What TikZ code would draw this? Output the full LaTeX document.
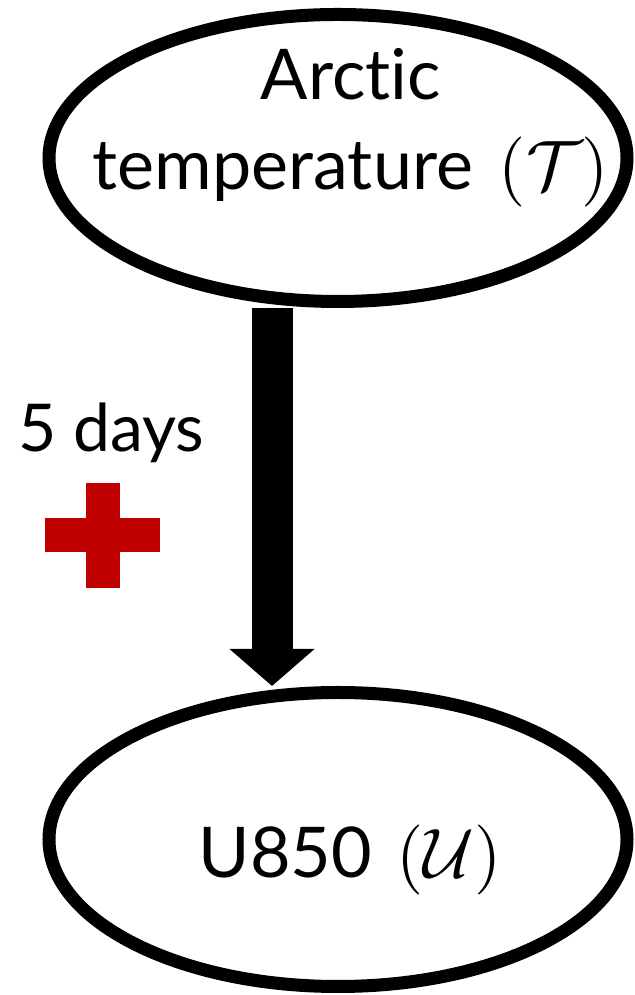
\IfFileExists{fix-cm.sty}{\RequirePackage{fix-cm}}{}
\documentclass[tikz,border=0pt]{standalone}
\usepackage{fontspec}
\setmainfont{Lato}[Ligatures=NoCommon]
\DeclareFontShape{OMS}{cmsy}{m}{n}{<->cmsy10}{\skewchar\font48}
\DeclareFontShape{OT1}{cmr}{m}{n}{<->cmr10}{}
\usetikzlibrary{shapes.geometric,arrows.meta}
\definecolor{crossred}{HTML}{C00000}
\tikzset{
  ovalnode/.style={ellipse, draw=black, line width=13pt, fill=white, minimum width=578pt, inner sep=0pt},
  bigtext/.style={font=\fontsize{70}{90}\selectfont, inner sep=0pt, align=center},
  daystext/.style={font=\fontsize{66}{80}\selectfont, inner sep=0pt},
  bigarrow/.style={line width=41pt, -{Triangle[length=37pt,width=83pt]}}
}
\begin{document}
\begin{tikzpicture}[x=1pt,y=1pt]
\useasboundingbox (0,0) rectangle (634,995);
\node[ovalnode, minimum height=287pt] (top) at (338,837) {};
\node[ovalnode, minimum height=294pt] (bot) at (338,155.5) {};
\coordinate (ax) at (272,0);
\draw[bigarrow] (top.south -| ax) -- (bot.north -| ax);
\node[bigtext, anchor=base] (ttxt) at (351,805) {Arctic\\temperature\hspace{26pt}$(\mathcal{T})$};
\node[bigtext, anchor=base] (btxt) at (350,117) {U850\hspace{24pt}$(\mathcal{U})$};
\node[daystext, anchor=base west] (days) at (18,543) {5 days};
\fill[crossred] (86,407) rectangle (120,512);
\fill[crossred] (45,443) rectangle (160,477);
\end{tikzpicture}
\end{document}
